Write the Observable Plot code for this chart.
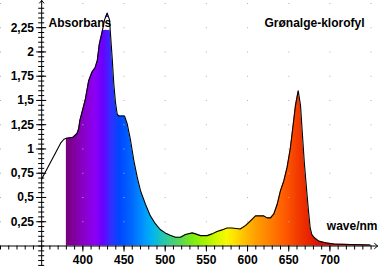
<!DOCTYPE html>
<html><head><meta charset="utf-8">
<script src="https://cdn.jsdelivr.net/npm/d3@7"></script>
<script src="https://cdn.jsdelivr.net/npm/@observablehq/plot@0.6"></script>
<style>body{margin:0;background:#fff}</style>
</head><body><div id="chart"></div>
<script>
// Absorbance spectrum
const wavelength = [350, 373, 377, 380, 381, 388, 393, 395, 396.3, 403, 407, 411, 415, 417.5, 420, 423.5, 426.3, 429.6, 432.4, 433.6, 435.6, 437.6, 439.6, 441.7, 443.7, 450.6, 453.8, 457.9, 461.9, 466, 470, 476, 482, 488, 494, 500, 506, 512.5, 518.6, 524.6, 532.8, 536.8, 542.9, 551, 557, 563, 569, 575, 581, 591, 597.5, 603.6, 609.7, 619.8, 623.8, 627.9, 631.9, 636, 640, 644, 648, 652, 655.4, 658.2, 661.5, 664.3, 666.3, 669, 672, 674, 676, 678, 680.5, 686.5, 694.7, 705, 725, 749];
const absorbance = [0.69, 1.06, 1.10, 1.11, 1.11, 1.12, 1.16, 1.21, 1.29, 1.51, 1.70, 1.79, 1.84, 1.91, 2.08, 2.21, 2.33, 2.40, 2.33, 2.18, 1.94, 1.67, 1.48, 1.36, 1.34, 1.34, 1.26, 1.09, 0.88, 0.71, 0.57, 0.43, 0.31, 0.23, 0.17, 0.135, 0.11, 0.09, 0.09, 0.118, 0.135, 0.125, 0.107, 0.107, 0.125, 0.15, 0.166, 0.186, 0.186, 0.176, 0.21, 0.26, 0.31, 0.31, 0.29, 0.29, 0.33, 0.43, 0.57, 0.67, 0.81, 1.01, 1.25, 1.45, 1.60, 1.45, 1.19, 0.85, 0.55, 0.36, 0.19, 0.12, 0.09, 0.05, 0.033, 0.02, 0.015, 0.01];

const xMajorTicks = [400, 450, 500, 550, 600, 650, 700];
const xMinorTicks = d3.range(300, 751, 10);
const yTickValues = [0.25, 0.5, 0.75, 1, 1.25, 1.5, 1.75, 2, 2.25];
const yTickLabels = ["0,25", "0,5", "0,75", "1", "1,25", "1,5", "1,75", "2", "2,25"];
const yMinorTicks = d3.range(-4, 50).map(d => d * 0.05);
const gridX = [300, 350, 400, 450, 500, 550, 600, 650, 700, 750];
const gridY = [0.25, 0.5, 0.75, 1, 1.25, 1.5, 1.75, 2, 2.25, 2.5];

// spectrum colours under the curve
const stopNm = [380, 400, 415, 425, 435, 445, 460, 475, 485, 495, 505, 520, 535, 550, 565, 575, 585, 595, 610, 625, 645, 665, 685, 705, 750];
const stopColor = ["#780078", "#8800c4", "#8c00f4", "#6a00ff", "#3030ff", "#0046ff", "#0068ff", "#0098ff", "#00b4f0", "#18c4c0", "#38cc90", "#5cd850", "#80ec10", "#a8f400", "#d8f800", "#f8f800", "#ffe000", "#ffc400", "#ffa000", "#ff8400", "#ff5c00", "#f03400", "#e01400", "#d40000", "#cc0000"];
const fillStart = 380;
const titleText = "Grønalge-klorofyl";
const yLabel = "Absorbans";
const xLabel = "wave/nm";

const W = 378, H = 266;
const xDomain = [300, 759];
const yDomain = [0, 2.53];
const axisNm = 350;
const marginBottom = 20.5;
const pxPerUnit = (H - marginBottom) / (yDomain[1] - yDomain[0]);
const yBottom = -marginBottom / pxPerUnit;
const axisPx = (axisNm - xDomain[0]) / (xDomain[1] - xDomain[0]) * W;

const data = wavelength.map((nm, i) => ({nm, a: absorbance[i]}));
const fillData = data.filter(d => d.nm >= fillStart);
const grid = gridX.flatMap(x => gridY.map(y => ({x, y})));

const plot = Plot.plot({
  width: W, height: H,
  marginLeft: 0, marginRight: 0, marginTop: 0, marginBottom,
  x: {domain: xDomain},
  y: {domain: yDomain},
  style: {fontFamily: "'Liberation Sans', Arial, sans-serif", fontSize: "12px", fontWeight: "bold", background: "#fff", overflow: "visible"},
  marks: [
    Plot.areaY(fillData, {x: "nm", y: "a", fill: "url(#spec)"}),
    Plot.dot(grid, {x: "x", y: "y", r: 0.6, fill: "#b4b4b4", symbol: "square"}),
    Plot.text([yLabel], {frameAnchor: "top-left", dx: 48, dy: 22.9, textAnchor: "start", lineAnchor: "middle", stroke: "white", strokeWidth: 6, fill: "black", paintOrder: "stroke"}),
    Plot.line(data, {x: "nm", y: "a", stroke: "black", strokeWidth: 1.1}),
    Plot.text([titleText], {frameAnchor: "top-right", dx: -14, dy: 22.9, textAnchor: "end", lineAnchor: "middle", fill: "black"}),
    Plot.text([xLabel], {frameAnchor: "bottom-right", dx: -1, dy: -19.8, textAnchor: "end", lineAnchor: "middle", fill: "black"}),
    Plot.arrow([{x1: xDomain[0], x2: xDomain[1] - 1, y1: 0, y2: 0}], {x1: "x1", x2: "x2", y1: "y1", y2: "y2", stroke: "black", strokeWidth: 1, headLength: 6, headAngle: 80}),
    Plot.arrow([{x1: axisNm, x2: axisNm, y1: yBottom, y2: yDomain[1]}], {x1: "x1", x2: "x2", y1: "y1", y2: "y2", stroke: "black", strokeWidth: 1, headLength: 5, headAngle: 80}),
    Plot.axisX({ticks: xMinorTicks, tickSize: 4, tickFormat: () => "", label: null}),
    Plot.axisX({ticks: xMajorTicks, tickSize: 6, tickPadding: 3.5, tickFormat: d => String(d), label: null}),
    Plot.axisY({ticks: yMinorTicks, tickSize: 6, dx: axisPx + 3, tickFormat: () => "", label: null}),
    Plot.axisY({ticks: yTickValues, tickSize: 10, dx: axisPx + 5, tickFormat: () => "", label: null}),
    Plot.axisY({ticks: yTickValues, tickSize: 0, tickPadding: 0, dx: 33.5, tickFormat: d => yTickLabels[yTickValues.indexOf(d)], label: null})
  ]
});

const svgEl = plot.tagName.toLowerCase() === "svg" ? plot : plot.querySelector("svg");
const xs = plot.scale("x");
const defs = d3.select(svgEl).insert("defs", ":first-child");
const grad = defs.append("linearGradient").attr("id", "spec").attr("gradientUnits", "userSpaceOnUse")
  .attr("x1", xs.apply(stopNm[0])).attr("x2", xs.apply(stopNm[stopNm.length - 1])).attr("y1", 0).attr("y2", 0);
const span = stopNm[stopNm.length - 1] - stopNm[0];
stopNm.forEach((nm, i) => grad.append("stop").attr("offset", (nm - stopNm[0]) / span).attr("stop-color", stopColor[i]));
document.getElementById("chart").appendChild(plot);
</script>
</body></html>
